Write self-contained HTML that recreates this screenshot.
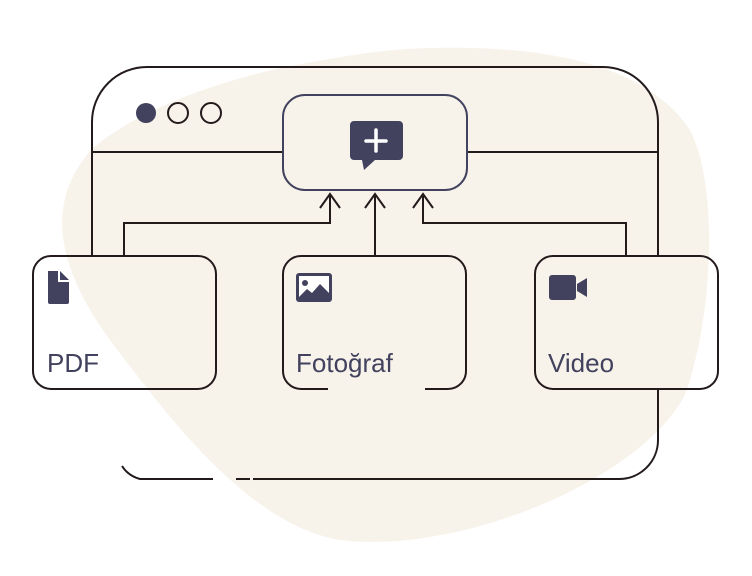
<!DOCTYPE html>
<html><head><style>
html,body{margin:0;padding:0;background:#fff;}
svg{display:block}
text{font-family:"Liberation Sans",sans-serif;font-size:26px;fill:#42425e}
</style></head><body>
<svg width="752" height="576" viewBox="0 0 752 576">
<path d="M435,48 C560,45 650,70 690,130 C720,190 712,320 685,395 C640,480 460,555 340,540 C250,525 170,420 110,340 C55,265 45,200 93,148 C150,100 250,72 313,62 C360,53 400,48 435,48 Z" fill="#f7f3eb"/>
<g fill="none" stroke="#231a1c" stroke-width="2">
<path d="M92,255 V122 A55,55 0 0 1 147,67 H603 A55,55 0 0 1 658,122 V255"/>
<path d="M658,389 V440 A39,39 0 0 1 619,479 H253 M250,479 H236 M213,479 H140 A30,30 0 0 1 122,466"/>
<path d="M92,152 H283 M467,152 H658"/>
<path d="M124,255 V223 H330 V195 M375,255 V195 M626,255 V223 H423 V195"/>
<path d="M320,208 L330,194 L340,208 M365,208 L375,194 L385,208 M413,208 L423,194 L433,208"/>
<rect x="33" y="256" width="183" height="133" rx="18"/>
<path d="M328,389 H301 A18,18 0 0 1 283,371 V274 A18,18 0 0 1 301,256 H448 A18,18 0 0 1 466,274 V371 A18,18 0 0 1 448,389 H425"/>
<rect x="535" y="256" width="183" height="133" rx="18"/>
<circle cx="178" cy="113" r="10"/><circle cx="211" cy="113" r="10"/>
</g>
<circle cx="146" cy="113" r="10" fill="#42425e"/>
<rect x="283" y="95" width="184" height="95" rx="22" fill="none" stroke="#42425e" stroke-width="2"/>
<path d="M354,121 H399 A4,4 0 0 1 403,125 V156 A4,4 0 0 1 399,160 H375 L364,170 L362,160 H354 A4,4 0 0 1 350,156 V125 A4,4 0 0 1 354,121 Z" fill="#42425e"/>
<path d="M376,130 V151 M366,141 H386" stroke="#fff" stroke-width="3.5" stroke-linecap="round"/>
<path d="M48,271 H58 V282 H69 V302 A2,2 0 0 1 67,304 H50 A2,2 0 0 1 48,302 Z M60,271 L69,280 H60 Z" fill="#42425e"/>
<rect x="296" y="273" width="36" height="29" rx="3" fill="#42425e"/>
<rect x="299" y="276" width="30" height="21" fill="#fff"/>
<circle cx="305" cy="283" r="3" fill="#42425e"/>
<path d="M299,297 L307,289 L312,293 L320,284 L329,293 V297 Z" fill="#42425e"/>
<rect x="549" y="275" width="27" height="25" rx="3" fill="#42425e"/>
<path d="M577,284 L587,278 V297 L577,291 Z" fill="#42425e"/>
<text x="47" y="372">PDF</text>
<text x="296" y="372">Fotoğraf</text>
<text x="548" y="372">Video</text>
</svg>
</body></html>
